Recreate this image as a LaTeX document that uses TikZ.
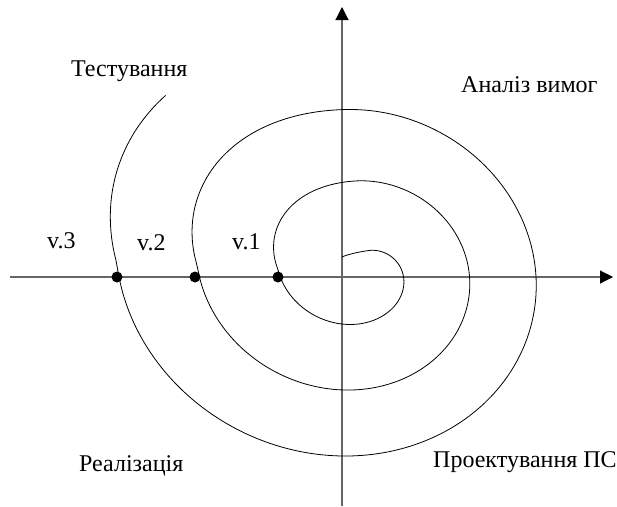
\documentclass[tikz,border=0pt]{standalone}
\usepackage{fontspec}
\setmainfont{Liberation Serif}
\usetikzlibrary{arrows.meta}
\begin{document}
\begin{tikzpicture}[x=1pt,y=-1pt,
  declare function={
    scx(\t)=361.9-0.0195*\t;
    scy(\t)=271.75-0.00765*\t;
    srx(\t)=23.5+0.2042*\t;
    sry(\t)=19.25+0.191*\t;
    sf(\t)=1-0.03*sin(2*\t)+0.07*max(0,-sin(2*\t))*max(0,-sin(\t));
  },
  axis/.style={draw=black!60,line width=1.1pt,-{Triangle[length=13pt,width=13pt,fill=black,color=black]}},
  spiral/.style={draw=black,line width=0.8pt},
  vdot/.style={circle,fill=black,inner sep=0pt,minimum size=11pt},
  lbl/.style={anchor=base west,inner sep=0pt,font=\fontsize{24}{28}\selectfont}]
\useasboundingbox (0,0) rectangle (617,506);
% axes
\coordinate (xs) at (10,277);
\coordinate (xe) at (613,277);
\coordinate (ys) at (342,506);
\coordinate (ye) at (342,7);
\draw[axis] (xs) -- (xe);
\draw[axis] (ys) -- (ye);
% spiral
\coordinate (s0) at (342,257);
\coordinate (s1) at ({scx(20)+sf(20)*srx(20)*sin(20)},{scy(20)-sf(20)*sry(20)*cos(20)});
\draw[spiral] (s0) .. controls (347,254.5) and (362,251.1) .. (s1)
  -- plot[domain=20:1036,samples=340,smooth,variable=\t]
  ({scx(\t)+sf(\t)*srx(\t)*sin(\t)},{scy(\t)-sf(\t)*sry(\t)*cos(\t)});
% version points
\node[vdot] (d1) at (278,277) {};
\node[vdot] (d2) at (195,277) {};
\node[vdot] (d3) at (117,277) {};
% labels
\node[lbl] (v1) at (232,249) {v.1};
\node[lbl] (v2) at (137,250) {v.2};
\node[lbl] (v3) at (47,248) {v.3};
\node[lbl] (test) at (71,76) {Тестування};
\node[lbl] (anal) at (461,92) {Аналіз вимог};
\node[lbl] (proj) at (433,467) {Проектування ПС};
\node[lbl] (real) at (79,471) {Реалізація};
\end{tikzpicture}
\end{document}
